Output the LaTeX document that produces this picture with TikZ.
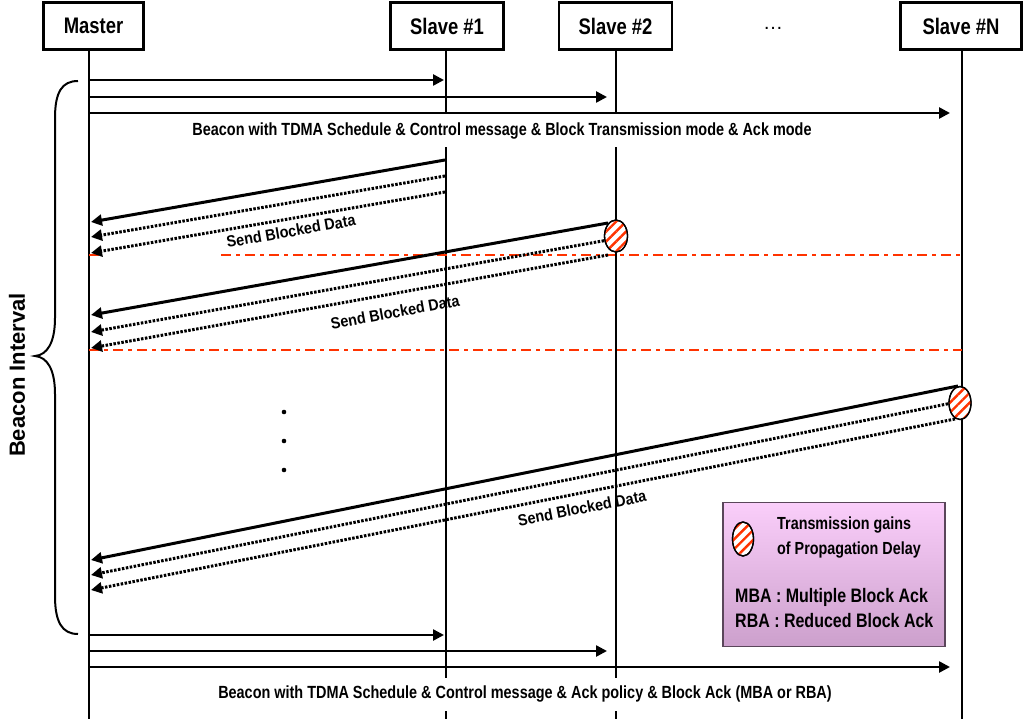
\documentclass[tikz,border=0pt]{standalone}
\usepackage{fontspec}
\setmainfont{Liberation Sans}
\newfontfamily\narrowfont[FakeStretch=0.82]{Liberation Sans}
\newfontfamily\datafont[FakeStretch=0.9]{Liberation Sans}
\usetikzlibrary{arrows.meta,patterns.meta,shapes.geometric}
\definecolor{dashred}{RGB}{255,51,0}
\definecolor{pinktop}{RGB}{250,206,250}
\definecolor{pinkbot}{RGB}{204,160,204}
\begin{document}
\begin{tikzpicture}[x=1pt,y=-1pt,
  hdr/.style={draw, line width=2.2pt, fill=white, minimum height=47pt, inner sep=0pt,
    font=\narrowfont\bfseries\fontsize{22.5}{26}\selectfont},
  life/.style={line width=2pt},
  tip/.style={-{Triangle[length=11pt,width=11pt]}},
  beacon/.style={tip, line width=2.5pt},
  datasolid/.style={tip, line width=3pt},
  datadot/.style={tip, line width=3pt, dash pattern=on 2.5pt off 1.5pt},
  reddash/.style={draw=dashred, line width=2pt, dash pattern=on 10pt off 5pt on 4pt off 5pt},
  hatch/.style={ellipse, draw, line width=1.3pt, inner sep=0pt, fill=white,
    postaction={pattern={Lines[angle=45,distance=7pt,line width=2.4pt]}, pattern color=dashred},
    postaction={draw, line width=1.3pt}},
  btext/.style={fill=white, inner sep=0pt, font=\narrowfont\bfseries\fontsize{17.6}{20}\selectfont},
  dtext/.style={font=\datafont\bfseries\fontsize{16}{19}\selectfont},
  legtext/.style={anchor=west, inner sep=0pt, font=\narrowfont\bfseries\fontsize{17.5}{20}\selectfont},
  legtext2/.style={anchor=west, inner sep=0pt, font=\narrowfont\bfseries\fontsize{19.5}{22}\selectfont}
]
\useasboundingbox (0,0) rectangle (1024,719);

% headers
\node[hdr, minimum width=100pt] (master) at (93.5,26) {Master};
\node[hdr, minimum width=113pt] (s1) at (447,26) {Slave \#1};
\node[hdr, minimum width=113pt] (s2) at (615.5,26) {Slave \#2};
\node[hdr, minimum width=121pt] (sN) at (961,26) {Slave \#N};
\node[font=\fontsize{20}{24}\selectfont] (dots) at (773,28) {…};

% lifelines
\coordinate (mB) at (89,719);
\coordinate (s1B) at (446,719);
\coordinate (s2B) at (616,719);
\coordinate (sNB) at (962,719);
\draw[life] (master.south -| mB) -- (mB);
\draw[life] (s1.south -| s1B) -- (s1B);
\draw[life] (s2.south -| s2B) -- (s2B);
\draw[life] (sN.south -| sNB) -- (sNB);

% brace and label
\draw[line width=2pt] (78,81) .. controls (62,81) and (55,92) .. (55,118) -- (55,318)
  .. controls (55,343) and (47,355) .. (35,356)
  .. controls (47,357) and (55,369) .. (55,394) -- (55,596)
  .. controls (55,622) and (62,634) .. (78,634);
\node[rotate=90, font=\bfseries\fontsize{22}{26}\selectfont] (bi) at (17,375) {Beacon Interval};

% top beacon
\coordinate (bt1s) at (89,80);  \coordinate (bt1e) at (444,80);
\coordinate (bt2s) at (89,97);  \coordinate (bt2e) at (607,97);
\coordinate (bt3s) at (89,113); \coordinate (bt3e) at (950,113);
\draw[beacon] (bt1s) -- (bt1e);
\draw[beacon] (bt2s) -- (bt2e);
\draw[beacon] (bt3s) -- (bt3e);
\node[btext, minimum width=810pt, minimum height=33pt] (toptext) at (502,131)
  {Beacon with TDMA Schedule \& Control message \& Block Transmission mode \& Ack mode};

% red dash-dot separators
\coordinate (r1s) at (89,255); \coordinate (r1g) at (99,255);
\coordinate (r1h) at (221,255); \coordinate (r1e) at (962,255);
\coordinate (r2s) at (89,350); \coordinate (r2e) at (962,350);
\draw[reddash] (r1s) -- (r1g);
\draw[reddash] (r1h) -- (r1e);
\draw[reddash] (r2s) -- (r2e);

% data labels
\node[dtext, rotate=9.9] (lab1) at (291,231) {Send Blocked Data};
\node[dtext, rotate=10.3] (lab2) at (395,312) {Send Blocked Data};
\node[dtext, rotate=11] (lab3) at (582,508) {Send Blocked Data};

% group 1 (slave 1)
\coordinate (g1a) at (445,160); \coordinate (g1A) at (91,222);
\coordinate (g1b) at (445,176); \coordinate (g1B) at (91,237);
\coordinate (g1c) at (445,192); \coordinate (g1C) at (91,253);
\draw[datasolid] (g1a) -- (g1A);
\draw[datadot] (g1b) -- (g1B);
\draw[datadot] (g1c) -- (g1C);

% group 2 (slave 2)
\coordinate (g2a) at (608,223); \coordinate (g2A) at (91,315);
\coordinate (g2b) at (608,240); \coordinate (g2B) at (91,332);
\coordinate (g2c) at (608,255); \coordinate (g2C) at (91,348);
\draw[datasolid] (g2a) -- (g2A);
\draw[datadot] (g2b) -- (g2B);
\draw[datadot] (g2c) -- (g2C);
\node[hatch, minimum width=23pt, minimum height=32pt] (e2) at (616,236) {};

% vertical ellipsis
\fill (284,412) circle (2.3);
\fill (284,441) circle (2.3);
\fill (284,470) circle (2.3);

% group 3 (slave N)
\coordinate (g3a) at (958,386); \coordinate (g3A) at (91,560);
\coordinate (g3b) at (952,403); \coordinate (g3B) at (91,575);
\coordinate (g3c) at (955,419); \coordinate (g3C) at (91,590);
\draw[datasolid] (g3a) -- (g3A);
\draw[datadot] (g3b) -- (g3B);
\draw[datadot] (g3c) -- (g3C);
\node[hatch, minimum width=22pt, minimum height=33pt] (eN) at (960,403) {};

% legend
\node[draw={rgb,255:red,90;green,70;blue,90}, line width=1.2pt, top color=pinktop, bottom color=pinkbot,
  minimum width=222pt, minimum height=144pt, inner sep=0pt] (legend) at (834,574.5) {};
\node[hatch, minimum width=21pt, minimum height=34pt] (lgE) at (743,539) {};
\node[legtext] (lg1) at (777,525) {Transmission gains};
\node[legtext] (lg2) at (777,550) {of Propagation Delay};
\node[legtext2] (lg3) at (735,597) {MBA : Multiple Block Ack};
\node[legtext2] (lg4) at (735,621) {RBA : Reduced Block Ack};

% bottom beacon
\coordinate (bb1s) at (89,635);  \coordinate (bb1e) at (444,635);
\coordinate (bb2s) at (89,651);  \coordinate (bb2e) at (607,651);
\coordinate (bb3s) at (89,667);  \coordinate (bb3e) at (950,667);
\draw[beacon] (bb1s) -- (bb1e);
\draw[beacon] (bb2s) -- (bb2e);
\draw[beacon] (bb3s) -- (bb3e);
\node[btext, minimum width=800pt, minimum height=33pt] (bottext) at (525,694)
  {Beacon with TDMA Schedule \& Control message \& Ack policy \& Block Ack (MBA or RBA)};
\end{tikzpicture}
\end{document}
